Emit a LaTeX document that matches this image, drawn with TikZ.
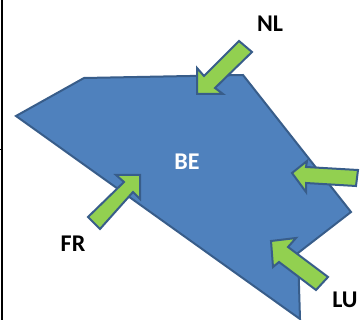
\documentclass[tikz,border=0pt]{standalone}
\usepackage{fontspec}
\setmainfont{Carlito}
\definecolor{beblue}{RGB}{79,129,189}
\definecolor{beedge}{RGB}{56,93,138}
\definecolor{arrowgreen}{RGB}{146,208,80}
\tikzset{
  country/.style={fill=beblue,draw=beedge,line width=2pt,line join=miter},
  flow/.style={fill=arrowgreen,draw=beedge,line width=2pt,line join=miter},
  lab/.style={font=\bfseries\fontsize{24}{24}\selectfont,text=black,inner sep=0pt},
  axisline/.style={draw=black,line width=2pt}
}
\begin{document}
\begin{tikzpicture}[x=1pt,y=-1pt]
\useasboundingbox (0,0) rectangle (361,320);
\fill[white] (0,0) rectangle (361,320);
\coordinate (axt) at (2,0);
\coordinate (axb) at (2,320);
\draw[axisline] (axt) -- (axb);
\draw[draw=black,line width=1pt] (0,150) -- (2,150);
\draw[country] (16,116) -- (84,78) -- (243,75) -- (351,212) -- (298,253) -- (300,319) -- cycle;
% NL
\draw[flow] (239,41) -- (252,52) -- (215,88) -- (223,94) -- (197,94) -- (197,68) -- (204,76) -- cycle;
% FR
\draw[flow] (88,217) -- (100,229) -- (133,192) -- (140,199) -- (140,175) -- (116,175) -- (124,182) -- cycle;
% east
\draw[flow] (358,170) -- (356,186) -- (306,183) -- (306,192) -- (292,173) -- (307,161) -- (306,167) -- cycle;
% LU
\draw[flow] (328,277) -- (316,290) -- (279,262) -- (273,267) -- (271,241) -- (296,238) -- (288,247) -- cycle;
\node[lab,text=white] (be) at (187,162) {BE};
\node[lab] (nl) at (270,24) {NL};
\node[lab] (fr) at (73,244) {FR};
\node[lab] (lu) at (345,300) {LU};
\end{tikzpicture}
\end{document}
